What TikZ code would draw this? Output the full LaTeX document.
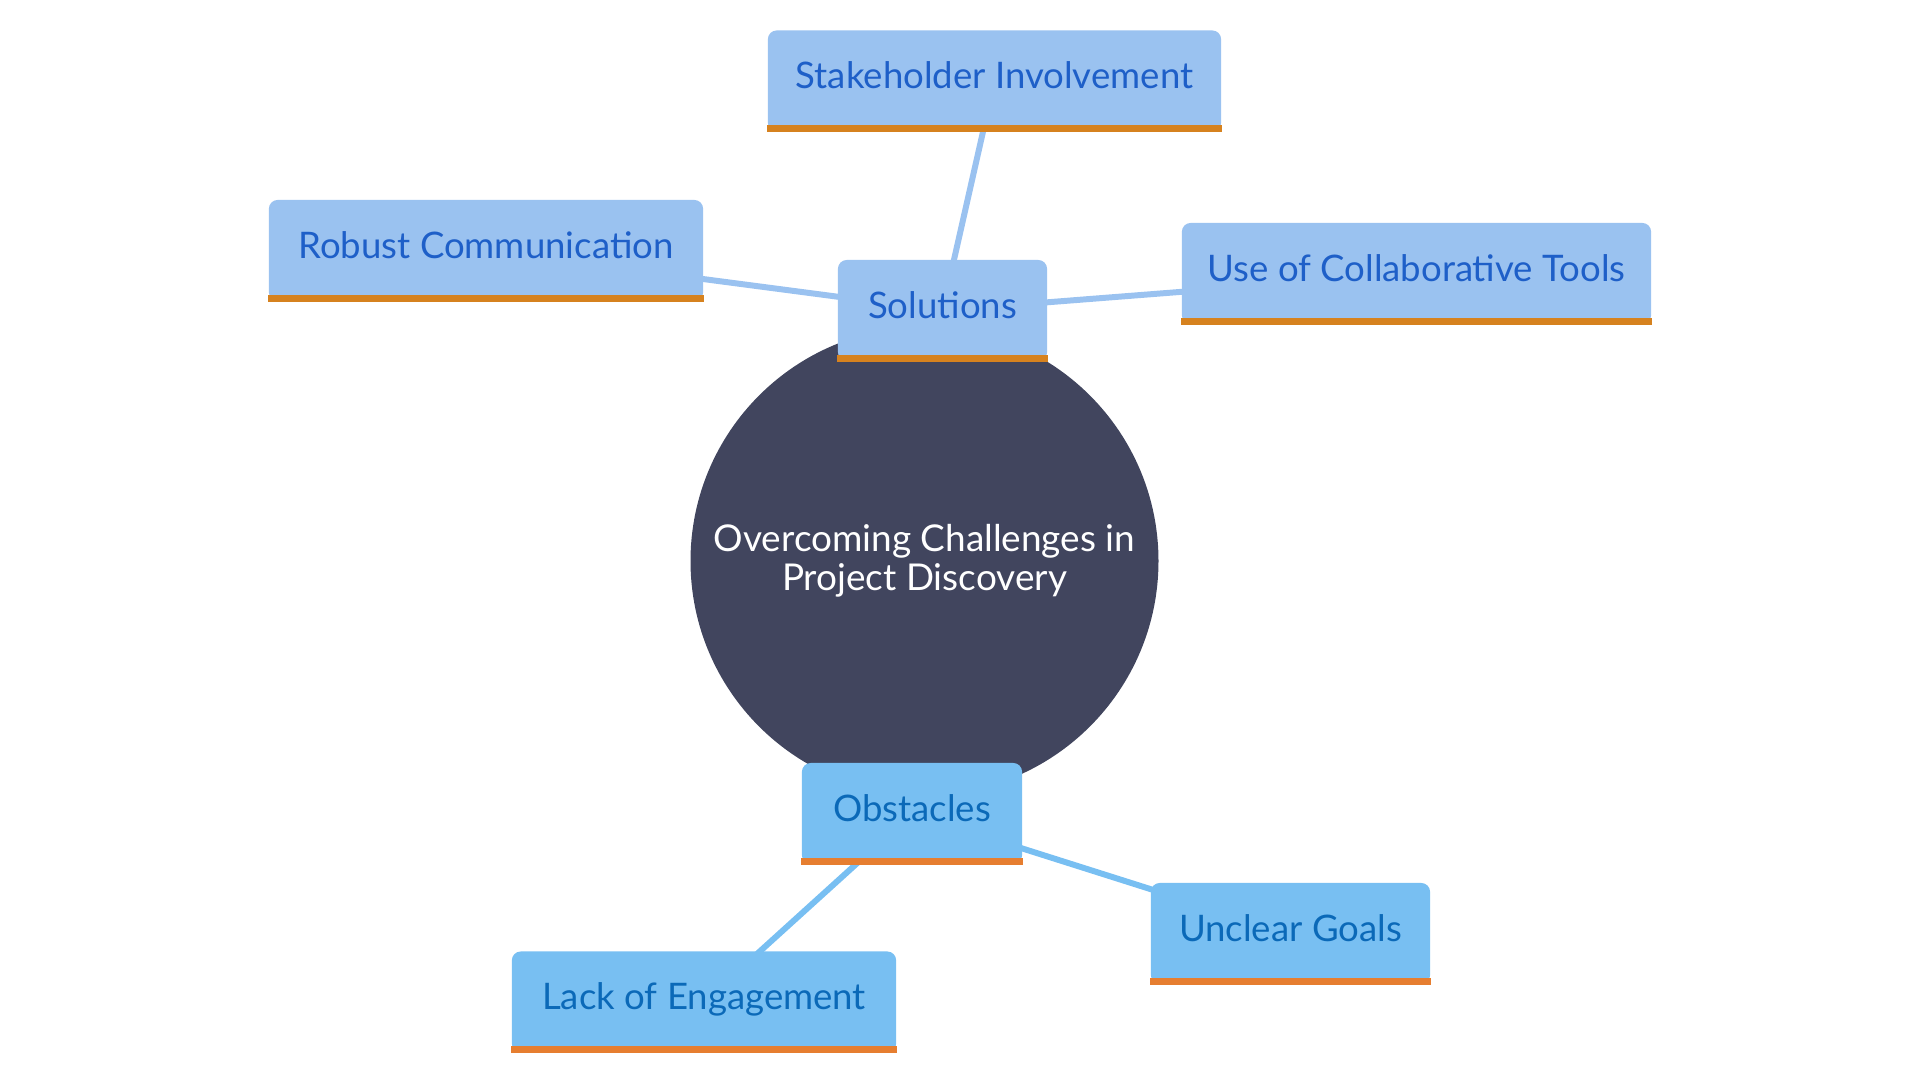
\documentclass[tikz,border=0pt]{standalone}
\usepackage{fontspec}
\setmainfont{Lato}
\usepackage{tikz}
\usetikzlibrary{calc}
\usetikzlibrary{backgrounds}
\usepackage{xcolor}

\definecolor{hubdark}{HTML}{41455E}
\definecolor{solfill}{HTML}{9AC2F0}
\definecolor{soltext}{HTML}{1E5FC8}
\definecolor{solband}{HTML}{D6821F}
\definecolor{obsfill}{HTML}{78BFF2}
\definecolor{obstext}{HTML}{0B69B8}
\definecolor{obsband}{HTML}{E67E30}

\begin{document}
\begin{tikzpicture}[x=0.01cm,y=-0.01cm,
        box/.style={rectangle, rounded corners=2.5pt, minimum height=1.01cm,
            inner sep=0pt, text height=8pt, text depth=3.5pt,
            font=\fontsize{10.4}{12}\selectfont},
        solbox/.style={box, fill=solfill, text=soltext},
        obsbox/.style={box, fill=obsfill, text=obstext},
        solline/.style={draw=solfill, line width=1.7pt},
        obsline/.style={draw=obsfill, line width=1.7pt}]
        \useasboundingbox (0,0) rectangle (1920,1080);

        \coordinate (H) at (924.5,561);

        \node[solbox, minimum width=4.53cm] (stake) at (994.5,81) {Stakeholder Involvement};
        \node[solbox, minimum width=4.34cm] (robust) at (486,250.5) {Robust Communication};
        \node[solbox, minimum width=2.09cm] (sol) at (942.5,310.5) {Solutions};
        \node[solbox, minimum width=4.69cm] (collab) at (1416.5,273.5) {Use of Collaborative Tools};

        \node[obsbox, minimum width=2.20cm] (obst) at (912,813.5) {Obstacles};
        \node[obsbox, minimum width=2.79cm] (unclear) at (1290.5,933.5) {Unclear Goals};
        \node[obsbox, minimum width=3.84cm] (lack) at (704,1002) {Lack of Engagement};

        % orange strips under the boxes
        \foreach \n in {stake,robust,sol,collab}
            \fill[solband] (\n.south west) rectangle ($(\n.south east)+(0,-7)$);
        \foreach \n in {obst,unclear,lack}
            \fill[obsband] (\n.south west) rectangle ($(\n.south east)+(0,-7)$);

        \begin{scope}[on background layer]
            \fill[hubdark] (H) circle (234);
            \node[text=white, align=center, font=\fontsize{10.5}{11}\selectfont] (hub) at (H)
                {Overcoming Challenges in\\Project Discovery};
            \draw[solline] (sol.center) -- (stake.center);
            \draw[solline] (sol.center) -- (robust.center);
            \draw[solline] (sol.center) -- (collab.center);
            \draw[obsline] (obst.center) -- (unclear.center);
            \draw[obsline] (obst.center) -- (lack.center);
        \end{scope}
    \end{tikzpicture}
\end{document}
